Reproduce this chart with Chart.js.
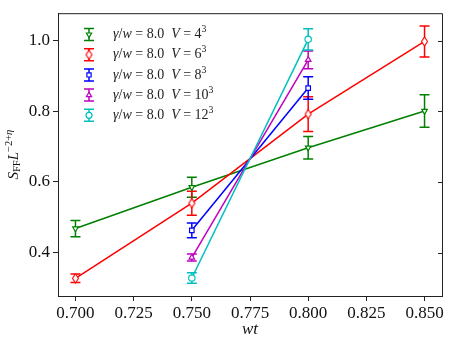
<!DOCTYPE html>
<html>
<head>
<meta charset="utf-8">
<script src="https://cdn.jsdelivr.net/npm/chart.js@4.4.0/dist/chart.umd.min.js"></script>
<style>
  html, body { margin: 0; padding: 0; background: #fff; }
  canvas { display: block; }
</style>
</head>
<body>
<canvas id="chart" width="457" height="345"></canvas>
<script>
// data
const sizes = ["4", "6", "8", "10", "12"];
const colors = ["#008000", "#ff0000", "#0000ff", "#bf00bf", "#00bfbf"];
const xTicks = [0.700, 0.725, 0.750, 0.775, 0.800, 0.825, 0.850];
const yTicks = [0.4, 0.6, 0.8, 1.0];

const wt4 = [0.70, 0.75, 0.80, 0.85];
const val4 = [0.468, 0.585, 0.697, 0.801];
const err4 = [0.023, 0.028, 0.032, 0.046];

const wt6 = [0.70, 0.75, 0.80, 0.85];
const val6 = [0.327, 0.540, 0.792, 0.998];
const err6 = [0.012, 0.034, 0.049, 0.044];

const wt8 = [0.75, 0.80];
const val8 = [0.463, 0.866];
const err8 = [0.021, 0.032];

const wt10 = [0.75, 0.80];
const val10 = [0.386, 0.946];
const err10 = [0.010, 0.025];

const wt12 = [0.75, 0.80];
const val12 = [0.328, 1.004];
const err12 = [0.015, 0.030];

const FONT = "'Liberation Serif', 'DejaVu Serif', serif";
const AXIS = "#222";

function points(xs, ys, es) {
  return xs.map((x, i) => ({ x: x, y: ys[i], err: es[i] }));
}

function thinDiamond(color) {
  const c = document.createElement("canvas");
  c.width = 9; c.height = 11;
  const g = c.getContext("2d");
  g.fillStyle = "#fff";
  g.strokeStyle = color;
  g.lineWidth = 1.1;
  g.beginPath();
  g.moveTo(4.5, 1); g.lineTo(7.5, 5.5); g.lineTo(4.5, 10); g.lineTo(1.5, 5.5);
  g.closePath();
  g.fill(); g.stroke();
  return c;
}

const series = [
  { data: points(wt4, val4, err4), style: "triangle", rot: 180 },
  { data: points(wt6, val6, err6), style: thinDiamond(colors[1]), rot: 0 },
  { data: points(wt8, val8, err8), style: "rect", rot: 0 },
  { data: points(wt10, val10, err10), style: "triangle", rot: 0 },
  { data: points(wt12, val12, err12), style: "circle", rot: 0 }
];

// draw text pieces with font switches (italic, sub/superscript)
function drawPieces(ctx, pieces, x, y, size) {
  pieces.forEach(p => {
    let s = size, dy = 0;
    if (p.sup) { s = size * 0.7; dy = -size * 0.35; }
    if (p.sub) { s = size * 0.7; dy = size * 0.2; }
    ctx.font = (p.it ? "italic " : "") + s + "px " + FONT;
    ctx.fillText(p.t, x, y + dy);
    x += ctx.measureText(p.t).width;
  });
  return x;
}

function errorBar(ctx, px, top, bot, color) {
  ctx.strokeStyle = color;
  ctx.lineWidth = 1.5;
  ctx.beginPath();
  ctx.moveTo(px, top); ctx.lineTo(px, bot);
  ctx.moveTo(px - 5, top); ctx.lineTo(px + 5, top);
  ctx.moveTo(px - 5, bot); ctx.lineTo(px + 5, bot);
  ctx.stroke();
}

const errorBars = {
  id: "errorBars",
  beforeDatasetsDraw(chart) {
    const { ctx, scales: { x, y } } = chart;
    ctx.save();
    chart.data.datasets.forEach(ds => {
      ds.data.forEach(p => {
        const px = x.getPixelForValue(p.x);
        errorBar(ctx, px, y.getPixelForValue(p.y + p.err), y.getPixelForValue(p.y - p.err), ds.borderColor);
      });
    });
    ctx.restore();
  }
};

const extras = {
  id: "extras",
  afterDraw(chart) {
    const { ctx, chartArea: a, scales: { y } } = chart;
    ctx.save();
    // frame top/right + inward ticks on the right
    ctx.strokeStyle = AXIS;
    ctx.lineWidth = 1;
    ctx.beginPath();
    ctx.moveTo(a.left, a.top + 0.5); ctx.lineTo(a.right + 0.5, a.top + 0.5); ctx.lineTo(a.right + 0.5, a.bottom);
    yTicks.forEach(v => {
      const py = Math.round(y.getPixelForValue(v)) + 0.5;
      ctx.moveTo(a.right - 4, py); ctx.lineTo(a.right, py);
    });
    ctx.stroke();

    // legend
    ctx.textBaseline = "middle";
    ctx.textAlign = "left";
    chart.data.datasets.forEach((ds, i) => {
      const cy = 34.5 + i * 20.2;
      errorBar(ctx, 89, cy - 6, cy + 6, ds.borderColor);
      ctx.fillStyle = "#222";
      drawPieces(ctx, [
        { t: "γ", it: 1 }, { t: "/" }, { t: "w", it: 1 }, { t: " = 8.0  " },
        { t: "V", it: 1 }, { t: " = " + sizes[i] }, { t: "3", sup: 1 }
      ], 113, cy, 14);
    });
    chart.data.datasets.forEach((ds, i) => {
      const cy = 34.5 + i * 20.2;
      ctx.fillStyle = "#fff";
      ctx.strokeStyle = ds.borderColor;
      ctx.lineWidth = 1.2;
      Chart.helpers.drawPoint(ctx, { pointStyle: ds.pointStyle, rotation: ds.pointRotation, radius: 3, borderWidth: 1.2 }, 89, cy);
    });

    // x title
    ctx.fillStyle = "#111";
    ctx.textAlign = "center";
    ctx.font = "italic 17px " + FONT;
    ctx.fillText("wt", (a.left + a.right) / 2, 330);

    // y title
    ctx.translate(14, (a.top + a.bottom) / 2);
    ctx.rotate(-Math.PI / 2);
    ctx.textAlign = "left";
    const pieces = [
      { t: "S", it: 1 }, { t: "FF", sub: 1 }, { t: "L", it: 1 },
      { t: "−2+", sup: 1 }, { t: "η", it: 1, sup: 1 }
    ];
    let w = 0;
    pieces.forEach(p => {
      const s = (p.sup || p.sub) ? 15 * 0.7 : 15;
      ctx.font = (p.it ? "italic " : "") + s + "px " + FONT;
      w += ctx.measureText(p.t).width;
    });
    drawPieces(ctx, pieces, -w / 2, 0, 15);
    ctx.restore();
  }
};

new Chart(document.getElementById("chart"), {
  type: "scatter",
  data: {
    datasets: series.map((s, i) => ({
      label: "V=" + sizes[i],
      data: s.data,
      showLine: true,
      borderColor: colors[i],
      backgroundColor: colors[i],
      borderWidth: 1.5,
      pointStyle: s.style,
      pointRotation: s.rot,
      pointRadius: 3.2,
      pointBorderWidth: 1.2,
      pointBackgroundColor: "#fff",
      pointBorderColor: colors[i],
      order: 4 - i
    }))
  },
  options: {
    responsive: false,
    animation: false,
    layout: { padding: { left: 0, right: 15, top: 12, bottom: 0 } },
    plugins: { legend: { display: false }, tooltip: { enabled: false } },
    scales: {
      x: {
        type: "linear",
        min: 0.6925,
        max: 0.8575,
        afterBuildTicks: s => { s.ticks = xTicks.map(v => ({ value: v })); },
        afterFit: s => { s.height = 49; },
        border: { display: true, color: AXIS, width: 1 },
        grid: { drawOnChartArea: false, drawTicks: true, tickLength: 5, color: AXIS },
        ticks: {
          padding: 2,
          color: "#111",
          font: { family: FONT, size: 17 },
          maxRotation: 0,
          callback: v => v.toFixed(3)
        }
      },
      y: {
        type: "linear",
        min: 0.277,
        max: 1.078,
        afterBuildTicks: s => { s.ticks = yTicks.map(v => ({ value: v })); },
        afterFit: s => { s.width = 58; },
        border: { display: true, color: AXIS, width: 1 },
        grid: { drawOnChartArea: false, drawTicks: true, tickLength: 5, color: AXIS },
        ticks: {
          padding: 3,
          color: "#111",
          font: { family: FONT, size: 17 },
          callback: v => v.toFixed(1)
        }
      }
    }
  },
  plugins: [errorBars, extras]
});
</script>
</body>
</html>
